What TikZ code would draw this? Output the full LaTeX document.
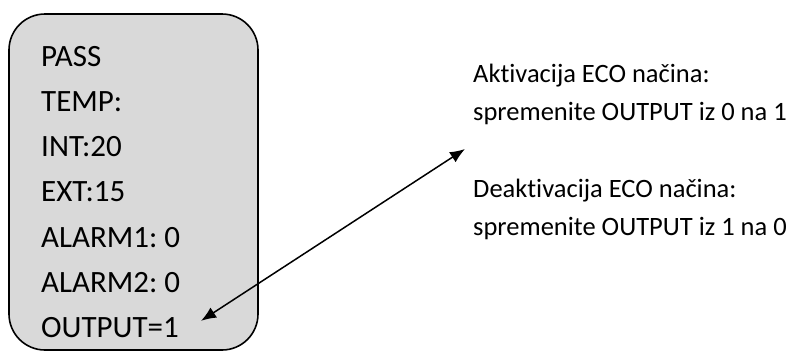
\documentclass[tikz,border=0pt]{standalone}
\usepackage{fontspec}
\setmainfont{Carlito}[Ligatures=NoCommon]
\frenchspacing
\usetikzlibrary{arrows.meta, calc}

\tikzset{
    menubox/.style={draw=black, line width=1.6pt, fill=black!15, rounded corners=36pt},
    menuline/.style={anchor=base west, inner sep=0pt, font=\fontsize{31}{37}\selectfont},
    noteline/.style={anchor=base west, inner sep=0pt, font=\fontsize{26.5}{32}\selectfont},
    pointer/.style={line width=1.5pt, {Latex[length=15pt, width=12pt]}-{Latex[length=15pt, width=12pt]}}
}

\begin{document}
\begin{tikzpicture}[x=1pt, y=-1pt]

        \useasboundingbox (0,0) rectangle (791,351);

        % DISPLAY
        \draw[menubox] (9,14) rectangle (258,350);

        % MENU LINES
        \node[menuline] (pass)   at (41,66)    {PASS};
        \node[menuline] (temp)   at (41,111.3) {TEMP:};
        \node[menuline] (int)    at (41,156.6) {INT:20};
        \node[menuline] (ext)    at (41,201.9) {EXT:15};
        \node[menuline] (alarmA) at (41,247.2) {ALARM1: 0};
        \node[menuline] (alarmB) at (41,292.5) {ALARM2: 0};
        \node[menuline] (output) at (41,337.8) {OUTPUT=1};

        % NOTES
        \node[noteline] (act)     at (473,82)  {Aktivacija ECO načina:};
        \node[noteline] (actset)  at (473,120) {spremenite OUTPUT iz 0 na 1};
        \node[noteline] (deact)   at (473,197) {Deaktivacija ECO načina:};
        \node[noteline] (deactset) at (473,235) {spremenite OUTPUT iz 1 na 0};

        % ARROW
        \coordinate (outtip) at ($(output.base east) + (22,-17)$);
        \coordinate (ecotip) at (465,149);
        \draw[pointer] (outtip) -- (ecotip);

    \end{tikzpicture}
\end{document}
